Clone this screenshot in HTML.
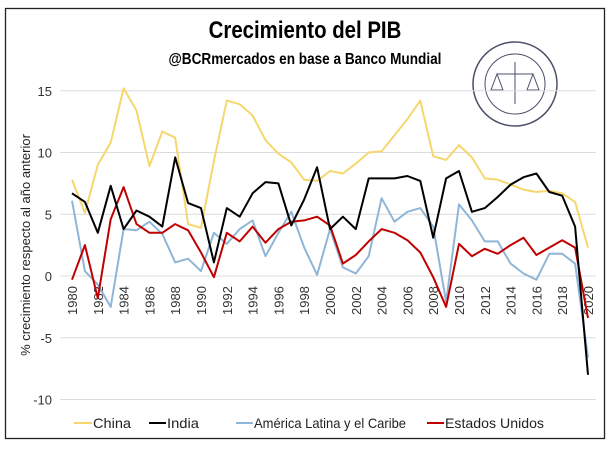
<!DOCTYPE html>
<html><head><meta charset="utf-8"><style>
html,body{margin:0;padding:0;background:#fff;}
body{width:611px;height:446px;overflow:hidden;font-family:"Liberation Sans",sans-serif;}
</style></head><body>
<svg id="s" width="611" height="446" xmlns="http://www.w3.org/2000/svg" font-family="Liberation Sans, sans-serif">
<rect x="5.5" y="8.5" width="599" height="430" fill="#fff" stroke="#222" stroke-width="1.3"/>
<text x="305" y="38" text-anchor="middle" font-size="24" font-weight="bold" transform="translate(305,0) scale(0.85,1) translate(-305,0)">Crecimiento del PIB</text>
<text x="305" y="64" text-anchor="middle" font-size="16" font-weight="bold" transform="translate(305,0) scale(0.85,1) translate(-305,0)">@BCRmercados en base a Banco Mundial</text>
<g fill="none" stroke="#4a5068">
<circle cx="515" cy="84" r="42" stroke-width="1.5"/>
<circle cx="515" cy="84" r="30" stroke-width="1"/>
<path d="M515 62 V104 M497 74 H533 M497 74 L491 90 H503 Z M533 74 L527 90 H539 Z" stroke-width="1"/>
</g>
<text x="30" y="245" font-size="13" text-anchor="middle" transform="rotate(-90 30 245)" fill="#222">% crecimiento respecto al año anterior</text>
<g id="grid" stroke="#dcdcdc" stroke-width="1"></g>
<g id="ylab" font-size="13" fill="#333" text-anchor="end"></g>
<g id="xlab" font-size="13" fill="#333"></g>
<g id="lines" fill="none" stroke-width="2" stroke-linejoin="round"></g>
<g font-size="14" fill="#222">
<line x1="74" y1="423" x2="92" y2="423" stroke="#f5d76e" stroke-width="2"/><text x="93" y="428" textLength="38" lengthAdjust="spacingAndGlyphs">China</text>
<line x1="149" y1="423" x2="166" y2="423" stroke="#000" stroke-width="2"/><text x="167" y="428" textLength="32" lengthAdjust="spacingAndGlyphs">India</text>
<line x1="236" y1="423" x2="253" y2="423" stroke="#8fb6d8" stroke-width="2"/><text x="254" y="428" textLength="152" lengthAdjust="spacingAndGlyphs">América Latina y el Caribe</text>
<line x1="427" y1="423" x2="444" y2="423" stroke="#c00000" stroke-width="2"/><text x="445" y="428" textLength="99" lengthAdjust="spacingAndGlyphs">Estados Unidos</text>
</g>
</svg>
<script>
var NS="http://www.w3.org/2000/svg";
function Y(v){return 276-v*12.35;}
function X(i){return 72+i*12.9;}
var g=document.getElementById('grid'),yl=document.getElementById('ylab'),xl=document.getElementById('xlab');
[15,10,5,0,-5,-10].forEach(function(v){
 var l=document.createElementNS(NS,'line');l.setAttribute('x1',60);l.setAttribute('x2',596);l.setAttribute('y1',Y(v));l.setAttribute('y2',Y(v));g.appendChild(l);
 var t=document.createElementNS(NS,'text');t.setAttribute('x',52);t.setAttribute('y',Y(v)+5);t.textContent=v;yl.appendChild(t);
});
for(var i=0;i<=40;i+=2){var t=document.createElementNS(NS,'text');var x=X(i)+5,y=315;
 t.setAttribute('x',x);t.setAttribute('y',y);t.setAttribute('transform','rotate(-90 '+x+' '+y+')');t.textContent=1980+i;xl.appendChild(t);}
var D={
"#f5d76e":[7.8,5.1,9.0,10.8,15.2,13.4,8.9,11.7,11.2,4.2,3.9,9.3,14.2,13.9,13.0,11.0,9.9,9.2,7.8,7.7,8.5,8.3,9.1,10.0,10.1,11.4,12.7,14.2,9.7,9.4,10.6,9.6,7.9,7.8,7.4,7.0,6.8,6.9,6.7,6.0,2.3],
"#8fb6d8":[6.1,0.4,-0.7,-2.5,3.8,3.7,4.4,3.4,1.1,1.4,0.4,3.5,2.6,3.8,4.5,1.6,3.5,5.2,2.3,0.1,3.8,0.7,0.2,1.6,6.3,4.4,5.2,5.5,4.0,-2.1,5.8,4.5,2.8,2.8,1.0,0.2,-0.3,1.8,1.8,1.0,-6.6],
"#c00000":[-0.3,2.5,-1.8,4.6,7.2,4.2,3.5,3.5,4.2,3.7,1.9,-0.1,3.5,2.8,4.0,2.7,3.8,4.4,4.5,4.8,4.1,1.0,1.7,2.8,3.8,3.5,2.9,1.9,-0.1,-2.5,2.6,1.6,2.2,1.8,2.5,3.1,1.7,2.3,2.9,2.3,-3.4],
"#000000":[6.7,6.0,3.5,7.3,3.8,5.3,4.8,4.0,9.6,5.9,5.5,1.1,5.5,4.8,6.7,7.6,7.5,4.1,6.2,8.8,3.8,4.8,3.8,7.9,7.9,7.9,8.1,7.7,3.1,7.9,8.5,5.2,5.5,6.4,7.4,8.0,8.3,6.8,6.5,4.0,-8.0]};
var L=document.getElementById('lines');
for(var c in D){var p=document.createElementNS(NS,'polyline');
 p.setAttribute('points',D[c].map(function(v,i){return X(i).toFixed(1)+','+Y(v).toFixed(1);}).join(' '));
 p.setAttribute('stroke',c);L.appendChild(p);}
</script>
</body></html>
